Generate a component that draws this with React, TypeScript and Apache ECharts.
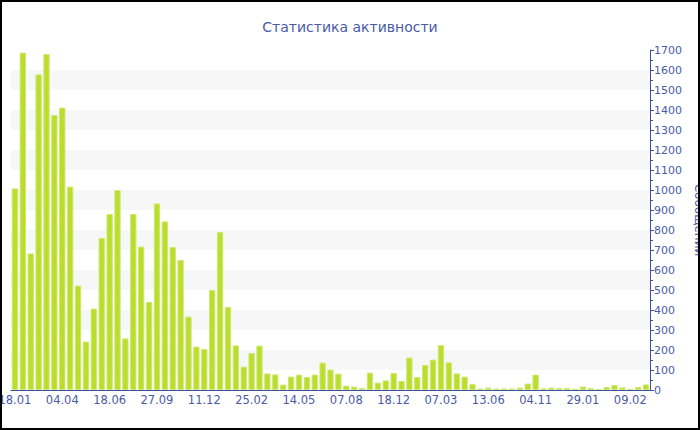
import React, { useEffect, useRef } from "react";
import * as echarts from "echarts";

const tickLabels = [
  "18.01", "04.04", "18.06", "27.09", "11.12", "25.02", "14.05",
  "07.08", "18.12", "07.03", "13.06", "04.11", "29.01", "09.02",
];

const messages = [
  1008, 1687, 683, 1578, 1680, 1375, 1412, 1017, 522, 242,
  407, 760, 880, 1000, 258, 880, 717, 440, 933, 843,
  715, 650, 367, 217, 205, 500, 790, 415, 223, 117,
  185, 222, 83, 78, 27, 67, 77, 65, 77, 137,
  102, 82, 22, 17, 10, 87, 37, 48, 85, 45,
  162, 65, 125, 152, 225, 138, 83, 67, 30, 7,
  12, 7, 8, 7, 12, 32, 77, 8, 12, 10,
  10, 5, 17, 10, 5, 15, 25, 13, 5, 15,
  28,
];

const LABEL_STEP = 6;
const categories = messages.map((_, i) =>
  i % LABEL_STEP === 0 ? tickLabels[i / LABEL_STEP] : `${tickLabels[Math.floor(i / LABEL_STEP)]}#${i % LABEL_STEP}`
);

const FONT = "DejaVu Sans";
const TEXT_COLOR = "#4a5ba6";
const AXIS_COLOR = "#3e50a0";

export default function App() {
  const ref = useRef<HTMLDivElement>(null);
  useEffect(() => {
    const chart = echarts.init(ref.current!, null, { renderer: "svg" });
    chart.setOption({
      animation: false,
      backgroundColor: "#ffffff",
      title: {
        text: "Статистика активности",
        left: "center",
        top: 15,
        textStyle: { fontFamily: FONT, fontSize: 14, fontWeight: "normal", color: TEXT_COLOR },
      },
      grid: { left: 11, right: 50, top: 50, bottom: 40, containLabel: false, outerBoundsMode: "none" },
      xAxis: {
        type: "category",
        data: categories,
        boundaryGap: true,
        axisLine: { lineStyle: { color: AXIS_COLOR, width: 1 } },
        axisTick: { alignWithLabel: true, interval: LABEL_STEP - 1, length: 4, lineStyle: { color: AXIS_COLOR } },
        axisLabel: {
          interval: LABEL_STEP - 1,
          color: TEXT_COLOR,
          fontFamily: FONT,
          fontSize: 11.5,
          margin: 4,
          formatter: (v: string) => v.split("#")[0],
        },
        splitLine: { show: false },
      },
      yAxis: {
        type: "value",
        position: "right",
        min: 0,
        max: 1700,
        interval: 100,
        name: "Сообщений",
        nameLocation: "middle",
        nameRotate: -90,
        nameGap: 38,
        nameTextStyle: { fontFamily: FONT, fontSize: 12, color: TEXT_COLOR },
        axisLine: { show: true, lineStyle: { color: AXIS_COLOR, width: 1 } },
        axisTick: { show: true, length: 4, lineStyle: { color: AXIS_COLOR } },
        minorTick: { show: true, splitNumber: 2, length: 3, lineStyle: { color: AXIS_COLOR } },
        axisLabel: {
          color: TEXT_COLOR,
          fontFamily: FONT,
          fontSize: 11,
          margin: 4,
          formatter: (v: number) => String(v),
        },
        splitLine: { show: false },
        splitArea: { show: true, areaStyle: { color: ["#ffffff", "#f7f7f7"] } },
      },
      series: [
        {
          type: "bar",
          name: "Сообщений",
          data: messages,
          barCategoryGap: "20%",
          itemStyle: { color: "#badd2e", borderColor: "#cfe86e", borderWidth: 1 },
        },
      ],
      graphic: [
        {
          type: "rect",
          shape: { x: 1, y: 1, width: 698, height: 428 },
          style: { fill: "none", stroke: "#000000", lineWidth: 2 },
          z: 100,
        },
      ],
    });
    return () => chart.dispose();
  }, []);
  return (
    <div
      ref={ref}
      style={{ position: "absolute", left: 0, top: 0, width: 700, height: 430 }}
    />
  );
}
